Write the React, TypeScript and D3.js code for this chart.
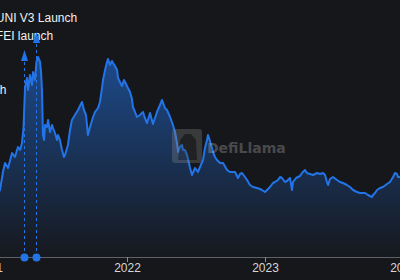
import React from "react";
import * as d3 from "d3";

// decimal years
const years = [
  2020.993, 2021.022, 2021.051, 2021.08, 2021.101, 2021.116, 2021.138, 2021.167, 2021.188, 2021.21,
  2021.225, 2021.239, 2021.25, 2021.261, 2021.275, 2021.283, 2021.297, 2021.312, 2021.319, 2021.333,
  2021.344, 2021.355, 2021.37, 2021.377, 2021.384, 2021.391, 2021.399, 2021.406, 2021.42, 2021.428,
  2021.442, 2021.457, 2021.464, 2021.478, 2021.493, 2021.5, 2021.514, 2021.529, 2021.543, 2021.551,
  2021.572, 2021.587, 2021.601, 2021.623, 2021.645, 2021.659, 2021.674, 2021.688, 2021.703, 2021.717,
  2021.732, 2021.754, 2021.768, 2021.79, 2021.804, 2021.819, 2021.826, 2021.841, 2021.855, 2021.862,
  2021.877, 2021.891, 2021.899, 2021.913, 2021.928, 2021.935, 2021.949, 2021.964, 2021.978, 2021.986,
  2022.007, 2022.022, 2022.036, 2022.043, 2022.058, 2022.072, 2022.094, 2022.116, 2022.13, 2022.145,
  2022.167, 2022.188, 2022.203, 2022.217, 2022.239, 2022.254, 2022.275, 2022.29, 2022.312, 2022.333,
  2022.348, 2022.362, 2022.37, 2022.384, 2022.399, 2022.406, 2022.42, 2022.435, 2022.457, 2022.471,
  2022.493, 2022.514, 2022.529, 2022.551, 2022.565, 2022.58, 2022.587, 2022.601, 2022.616, 2022.623,
  2022.638, 2022.652, 2022.674, 2022.696, 2022.725, 2022.746, 2022.768, 2022.783, 2022.797, 2022.804,
  2022.819, 2022.833, 2022.855, 2022.87, 2022.891, 2022.913, 2022.942, 2022.964, 2022.978, 2023.0,
  2023.022, 2023.036, 2023.058, 2023.072, 2023.094, 2023.109, 2023.123, 2023.145, 2023.159, 2023.181,
  2023.196, 2023.203, 2023.225, 2023.239, 2023.254, 2023.268, 2023.29, 2023.304, 2023.326, 2023.348,
  2023.377, 2023.399, 2023.42, 2023.435, 2023.449, 2023.457, 2023.471, 2023.493, 2023.522, 2023.543,
  2023.565, 2023.594, 2023.616, 2023.638, 2023.667, 2023.688, 2023.725, 2023.746, 2023.775, 2023.783,
  2023.797, 2023.812, 2023.833, 2023.855, 2023.884, 2023.906, 2023.928, 2023.942, 2023.957, 2023.964,
  2023.978, 2024.007,
];

// TVL in $B
const tvl = [
  5.2, 5.7, 6.0, 6.7, 8.5, 9.4, 8.9, 10.4, 10.0, 11.0,
  10.7, 11.4, 12.9, 16.9, 17.9, 16.7, 18.2, 17.2, 18.5, 17.7,
  19.5, 20.0, 19.5, 18.5, 16.7, 12.2, 11.7, 13.2, 13.0, 13.7,
  12.5, 13.2, 12.9, 12.4, 11.7, 12.2, 11.7, 10.7, 10.0, 10.2,
  11.2, 12.7, 13.7, 14.2, 14.7, 15.1, 15.5, 14.7, 14.2, 12.2,
  13.0, 14.0, 14.5, 14.9, 15.5, 16.9, 17.7, 18.7, 19.5, 19.8,
  19.2, 19.6, 19.4, 19.1, 18.7, 17.9, 17.5, 17.1, 17.7, 17.5,
  16.9, 16.5, 15.8, 15.0, 14.5, 14.0, 14.2, 14.5, 13.9, 13.4,
  14.4, 13.3, 13.9, 14.5, 15.2, 15.7, 14.9, 14.7, 14.0, 13.2,
  12.5, 11.4, 10.5, 11.0, 11.2, 10.7, 10.7, 10.2, 8.9, 8.2,
  8.9, 8.5, 9.0, 9.7, 10.9, 11.7, 12.2, 11.6, 10.9, 10.5,
  10.0, 9.7, 9.4, 9.4, 8.7, 8.5, 8.5, 8.5, 8.1, 7.9,
  8.3, 8.4, 8.0, 7.7, 7.2, 7.0, 6.9, 6.8, 6.7, 6.5,
  6.8, 7.0, 7.4, 7.5, 7.7, 8.0, 7.9, 7.5, 7.6, 7.9,
  6.7, 7.5, 7.9, 8.0, 8.1, 8.4, 8.7, 8.4, 8.3, 8.2,
  8.4, 8.3, 8.4, 8.2, 7.5, 7.2, 7.8, 8.0, 7.7, 7.5,
  7.4, 7.2, 7.0, 6.7, 6.5, 6.4, 6.4, 6.2, 6.0, 6.2,
  6.4, 6.7, 6.9, 7.0, 7.3, 7.5, 8.0, 8.4, 8.3, 8.0,
  8.0, 8.2,
];

const tickYears = [2021, 2022, 2023, 2024];

const eventNames = ["Polygon launch", "FEI launch", "UNI V3 Launch"];
const eventYears = [2020.827, 2021.253, 2021.342];
const eventTops = [0, 20.7, 22.5]; // arrow tip value (same units as tvl)
const eventRows = [4, 1, 0];

const toDate = (y: number) => {
  const yr = Math.floor(y);
  const a = new Date(Date.UTC(yr, 0, 1)).getTime();
  const b = new Date(Date.UTC(yr + 1, 0, 1)).getTime();
  return new Date(a + (y - yr) * (b - a));
};

const W = 400;
const H = 280;
const BLUE = "#2374E8";

export default function App() {
  const x = d3
    .scaleUtc()
    .domain([toDate(2021), toDate(2024)])
    .range([-11, 403]);
  const y = d3.scaleLinear().domain([0, 25.7]).range([257, 0]);

  const data = years.map((yy, i) => ({ d: toDate(yy), v: tvl[i] }));
  const line = d3
    .line<{ d: Date; v: number }>()
    .x((p) => x(p.d))
    .y((p) => y(p.v));
  const area = d3
    .area<{ d: Date; v: number }>()
    .x((p) => x(p.d))
    .y0(y(0))
    .y1((p) => y(p.v));

  const font = "'Liberation Sans', Arial, sans-serif";

  return (
    <svg
      width={W}
      height={H}
      style={{ position: "fixed", left: 0, top: 0, display: "block" }}
    >
      <defs>
        <linearGradient id="g" gradientUnits="userSpaceOnUse" x1="0" y1={y(20)} x2="0" y2={y(0)}>
          <stop offset="0%" stopColor={BLUE} stopOpacity={0.55} />
          <stop offset="100%" stopColor={BLUE} stopOpacity={0.02} />
        </linearGradient>
      </defs>
      <rect x={0} y={0} width={W} height={H} fill="#16171a" />
      <path d={area(data) || ""} fill="url(#g)" />
      <path d={line(data) || ""} fill="none" stroke={BLUE} strokeWidth={2} strokeLinejoin="round" />

      {/* axis */}
      <line x1={0} x2={W} y1={y(0) + 0.5} y2={y(0) + 0.5} stroke="#5f6166" strokeWidth={1} />
      {tickYears.map((t) => {
        const px = Math.round(x(toDate(t))) + 0.5;
        return (
          <g key={t}>
            <line x1={px} x2={px} y1={y(0)} y2={y(0) + 5} stroke="#8a8c90" />
            <text
              x={px}
              y={272}
              textAnchor="middle"
              fontFamily={font}
              fontSize={12}
              fill="#d6d6d6"
            >
              {t}
            </text>
          </g>
        );
      })}

      {/* events */}
      {eventNames.map((name, i) => {
        const px = Math.round(x(toDate(eventYears[i]))) + 0.5;
        const top = y(eventTops[i]);
        const rowY = 22 + eventRows[i] * 18;
        return (
          <g key={name}>
            {eventTops[i] > 0 && (
              <>
                <line
                  x1={px}
                  x2={px}
                  y1={y(0)}
                  y2={top + 8}
                  stroke={BLUE}
                  strokeWidth={1}
                  strokeDasharray="3,3"
                />
                <path
                  d={`M${px},${top} L${px - 3.5},${top + 11} L${px + 3.5},${top + 11} Z`}
                  fill={BLUE}
                />
                <circle cx={px} cy={y(0) + 0.5} r={4} fill={BLUE} />
              </>
            )}
            <text
              x={px}
              y={rowY}
              textAnchor="middle"
              fontFamily={font}
              fontSize={12}
              fill="#f0f0f0"
            >
              {name}
            </text>
          </g>
        );
      })}

      {/* watermark */}
      <g opacity={0.3}>
        <rect x={172} y={129} width={30} height={34} rx={3} fill="#8a8a8a" />
        <path d="M178,160 L180,140 L185,134 L191,134 L196,140 L197,160 Z" fill="#3a3a3a" />
        <text
          x={207}
          y={153}
          fontFamily="'DejaVu Sans', sans-serif"
          fontWeight="bold"
          fontSize={14}
          fill="#bdbdbd"
        >
          DefiLlama
        </text>
      </g>
    </svg>
  );
}
